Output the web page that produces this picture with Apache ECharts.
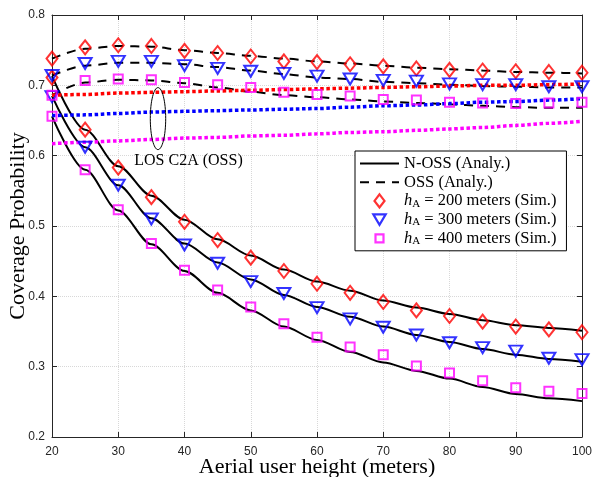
<!DOCTYPE html>
<html>
<head>
<meta charset="utf-8">
<title>Coverage Probability</title>
<script src="https://cdn.jsdelivr.net/npm/echarts@6/dist/echarts.min.js"></script>
<style>
    html, body { margin: 0; padding: 0; background: #fff; }
    .chart { width: 593px; height: 477px; }
</style>
</head>
<body>
<div class="chart"></div>
<script>
// 横轴：空中用户高度
const heights = [20, 25, 30, 35, 40, 45, 50, 55, 60, 65, 70, 75, 80, 85, 90, 95, 100];
const x_ticks = [20, 30, 40, 50, 60, 70, 80, 90, 100];
const y_ticks = [0.2, 0.3, 0.4, 0.5, 0.6, 0.7, 0.8];

// N-OSS 解析曲线（实线）
const noss_analy_200 = [0.713, 0.637, 0.585, 0.543, 0.509, 0.481, 0.458, 0.438, 0.421, 0.408, 0.394, 0.384, 0.375, 0.366, 0.359, 0.355, 0.351];
const noss_analy_300 = [0.685, 0.612, 0.558, 0.511, 0.475, 0.448, 0.424, 0.402, 0.385, 0.371, 0.357, 0.345, 0.335, 0.325, 0.317, 0.311, 0.307];
const noss_analy_400 = [0.656, 0.580, 0.522, 0.474, 0.436, 0.405, 0.380, 0.357, 0.338, 0.321, 0.306, 0.294, 0.283, 0.271, 0.261, 0.255, 0.251];

// OSS 解析曲线（虚线）
const oss_analy_200 = [0.738, 0.752, 0.756, 0.755, 0.750, 0.746, 0.742, 0.738, 0.734, 0.731, 0.728, 0.725, 0.723, 0.721, 0.719, 0.718, 0.717];
const oss_analy_300 = [0.714, 0.728, 0.732, 0.732, 0.730, 0.726, 0.721, 0.716, 0.711, 0.709, 0.705, 0.703, 0.701, 0.699, 0.698, 0.697, 0.697];
const oss_analy_400 = [0.686, 0.704, 0.708, 0.707, 0.703, 0.697, 0.691, 0.686, 0.683, 0.680, 0.677, 0.675, 0.673, 0.671, 0.669, 0.668, 0.668];

// LOS C2A (OSS)（点线）
const los_200 = [0.686, 0.687, 0.689, 0.690, 0.691, 0.692, 0.693, 0.694, 0.695, 0.696, 0.697, 0.698, 0.699, 0.700, 0.700, 0.701, 0.702];
const los_300 = [0.657, 0.658, 0.660, 0.662, 0.663, 0.664, 0.665, 0.666, 0.667, 0.669, 0.671, 0.672, 0.674, 0.676, 0.677, 0.679, 0.681];
const los_400 = [0.617, 0.619, 0.621, 0.623, 0.625, 0.626, 0.628, 0.629, 0.631, 0.633, 0.634, 0.636, 0.638, 0.640, 0.643, 0.646, 0.649];

// 仿真点
const noss_sim_200 = [0.711, 0.637, 0.583, 0.541, 0.506, 0.480, 0.455, 0.436, 0.418, 0.405, 0.392, 0.380, 0.372, 0.364, 0.357, 0.353, 0.349];
const noss_sim_300 = [0.684, 0.612, 0.558, 0.510, 0.473, 0.447, 0.421, 0.404, 0.384, 0.368, 0.356, 0.345, 0.334, 0.327, 0.322, 0.312, 0.310];
const noss_sim_400 = [0.656, 0.580, 0.523, 0.475, 0.437, 0.409, 0.385, 0.361, 0.342, 0.328, 0.317, 0.301, 0.291, 0.280, 0.270, 0.265, 0.262];
const oss_sim_200 = [0.738, 0.754, 0.757, 0.756, 0.749, 0.746, 0.741, 0.734, 0.733, 0.730, 0.727, 0.724, 0.722, 0.721, 0.720, 0.719, 0.718];
const oss_sim_300 = [0.714, 0.731, 0.734, 0.734, 0.728, 0.724, 0.720, 0.717, 0.713, 0.709, 0.707, 0.706, 0.702, 0.701, 0.701, 0.698, 0.698];
const oss_sim_400 = [0.686, 0.707, 0.709, 0.708, 0.704, 0.701, 0.697, 0.690, 0.687, 0.685, 0.680, 0.679, 0.676, 0.675, 0.674, 0.675, 0.676];

// 图例名称
const name_noss = "N-OSS (Analy.)";
const name_oss = "OSS (Analy.)";
const sim_names = { h200: "200", h300: "300", h400: "400" };

(function () {
    const my_echart = echarts.init(document.querySelector(".chart"));
    const serif = "Liberation Serif";
    const sans = "Liberation Sans";
    const axis_color = "#262626";

    function pairs(ys) { //组合成 [x, y]
        return heights.map(function (x, i) { return [x, ys[i]]; });
    }
    function line(name, ys, type, color, width) {
        return {
            name: name,
            type: "line",
            data: pairs(ys),
            symbol: "none",
            smooth: 0.3,
            smoothMonotone: "x",
            lineStyle: { color: color, width: width, type: type, cap: "butt" },
            itemStyle: { color: color },
            z: 2
        };
    }
    function sim(name, ys, symbol, size, rotate, color) {
        return {
            name: name,
            type: "scatter",
            data: pairs(ys),
            symbol: symbol,
            symbolSize: size,
            symbolRotate: rotate,
            itemStyle: { color: "rgba(0,0,0,0)", borderColor: color, borderWidth: 2 },
            z: 3
        };
    }
    const dotted = [3.5, 2.6];
    const no_symbol = { color: "rgba(0,0,0,0)", borderWidth: 0 }; //图例里不画圆点

    // 图例图标（前两个 M 只用来撑开 14x14 的外框，使图标保持原大小）
    const icon_diamond = "path://M0,0M14,14M7,0.5L12,7L7,13.5L2,7Z";
    const icon_triangle = "path://M0,0M14,14M0.8,1.8L13.2,1.8L7,12.2Z";
    const icon_square = "path://M0,0M14,14M3,3L11,3L11,11L3,11Z";

    const x_axis_common = {
        type: "value", min: 20, max: 100, interval: 10,
        axisLine: { show: true, onZero: false, lineStyle: { color: axis_color, width: 1 } },
        axisTick: { show: true, inside: true, length: 5, lineStyle: { color: axis_color } }
    };
    const y_axis_common = {
        type: "value", min: 0.2, max: 0.8, interval: 0.1,
        axisLine: { show: true, onZero: false, lineStyle: { color: axis_color, width: 1 } },
        axisTick: { show: true, inside: true, length: 5, lineStyle: { color: axis_color } }
    };

    let option = {
        backgroundColor: "#fff",
        animation: false,
        grid: { left: 52, right: 11, top: 15, bottom: 40, containLabel: false, outerBoundsMode: "none" },
        xAxis: [
            Object.assign({}, x_axis_common, {
                position: "bottom",
                name: "Aerial user height (meters)",
                nameLocation: "middle",
                nameGap: 19,
                nameMoveOverlap: false,
                nameTextStyle: { fontFamily: serif, fontSize: 22, color: "#000" },
                axisLabel: { fontFamily: sans, fontSize: 12, color: axis_color, margin: 9 },
                splitLine: { show: true, lineStyle: { type: "dotted", color: "#d8d8d8", width: 1 } }
            }),
            Object.assign({}, x_axis_common, {
                position: "top",
                axisLabel: { show: false },
                splitLine: { show: false }
            })
        ],
        yAxis: [
            Object.assign({}, y_axis_common, {
                position: "left",
                name: "Coverage Probability",
                nameLocation: "middle",
                nameGap: 23,
                nameMoveOverlap: false,
                nameTextStyle: { fontFamily: serif, fontSize: 22, color: "#000" },
                axisLabel: {
                    fontFamily: sans, fontSize: 12, color: axis_color, margin: 7,
                    formatter: function (v) { return v.toFixed(1); }
                },
                splitLine: { show: true, lineStyle: { type: "dotted", color: "#d8d8d8", width: 1 } }
            }),
            Object.assign({}, y_axis_common, {
                position: "right",
                axisLabel: { show: false },
                splitLine: { show: false }
            })
        ],
        legend: {
            data: [
                { name: name_noss, itemStyle: no_symbol },
                { name: name_oss, itemStyle: no_symbol },
                { name: "h200", icon: icon_diamond, itemStyle: { borderWidth: 2.2 } },
                { name: "h300", icon: icon_triangle, symbolRotate: 0, itemStyle: { borderWidth: 2.2 } },
                { name: "h400", icon: icon_square, itemStyle: { borderWidth: 2.2 } }
            ],
            orient: "vertical",
            left: 355,
            top: 151,
            padding: [4, 10, 4, 4],
            itemWidth: 39,
            itemHeight: 14,
            itemGap: 1.7,
            symbolKeepAspect: true,
            backgroundColor: "#fff",
            borderColor: "#000",
            borderWidth: 1,
            textStyle: {
                fontFamily: serif, fontSize: 16.5, color: "#000",
                rich: {
                    i: { fontFamily: serif, fontSize: 16.5, fontStyle: "italic", color: "#000" },
                    s: { fontFamily: serif, fontSize: 11, color: "#000", verticalAlign: "bottom" }
                }
            },
            formatter: function (name) {
                if (sim_names[name]) {
                    return "{i|h}{s|A} = " + sim_names[name] + " meters (Sim.)";
                }
                return name;
            }
        },
        series: [
            line(name_noss, noss_analy_200, "solid", "#000", 2),
            line(name_noss, noss_analy_300, "solid", "#000", 2),
            line(name_noss, noss_analy_400, "solid", "#000", 2),
            line(name_oss, oss_analy_200, [9, 7], "#000", 2),
            line(name_oss, oss_analy_300, [9, 7], "#000", 2),
            line(name_oss, oss_analy_400, [9, 7], "#000", 2),
            line("LOS 200", los_200, dotted, "#ff0000", 3.5),
            line("LOS 300", los_300, dotted, "#0000ff", 3.5),
            line("LOS 400", los_400, dotted, "#ff00ff", 3.5),
            sim("h200", noss_sim_200, "diamond", [11, 14], 0, "#ff0000"),
            sim("h200", oss_sim_200, "diamond", [11, 14], 0, "#ff0000"),
            sim("h300", noss_sim_300, "triangle", [13, 11], 180, "#0000ff"),
            sim("h300", oss_sim_300, "triangle", [13, 11], 180, "#0000ff"),
            sim("h400", noss_sim_400, "rect", [9, 9], 0, "#ff00ff"),
            sim("h400", oss_sim_400, "rect", [9, 9], 0, "#ff00ff")
        ]
    }; //配置项
    my_echart.setOption(option);

    // 标注：椭圆 + 文字 LOS C2A (OSS)
    const finder = { xAxisIndex: 0, yAxisIndex: 0 };
    const c = my_echart.convertToPixel(finder, [36, 0.6527]);
    const t = my_echart.convertToPixel(finder, [40.6, 0.5925]);
    my_echart.setOption({
        graphic: [
            {
                type: "ellipse",
                shape: { cx: c[0], cy: c[1], rx: 7.7, ry: 31 },
                style: { fill: "none", stroke: "#000", lineWidth: 1 },
                z: 10
            },
            {
                type: "text",
                x: t[0], y: t[1],
                style: {
                    text: "LOS C2A (OSS)", fontFamily: serif, fontSize: 16, fill: "#000",
                    align: "center", verticalAlign: "middle"
                },
                z: 10
            }
        ]
    });
})();
</script>
</body>
</html>
